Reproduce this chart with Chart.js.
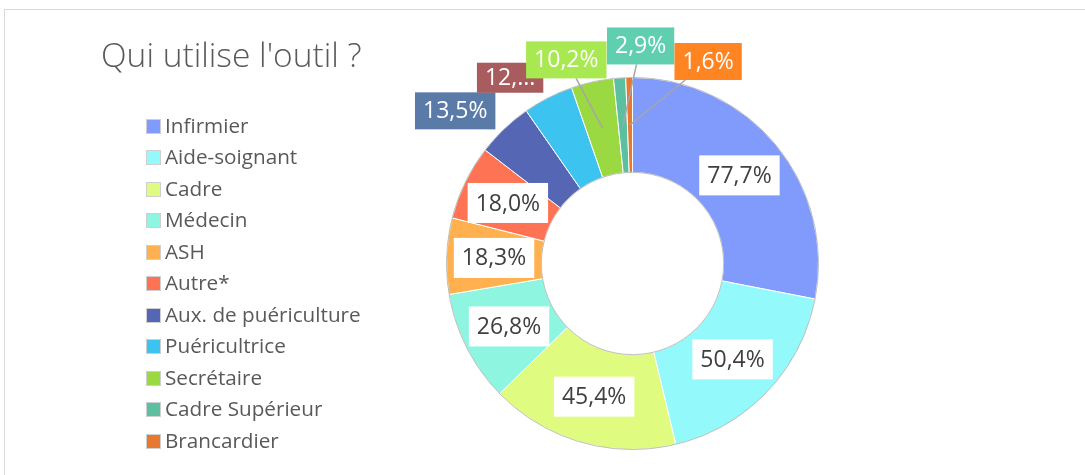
<!doctype html>
<html lang="fr">
<head>
  <meta charset="utf-8">
  <title>Qui utilise l'outil ?</title>
  <script src="https://cdn.jsdelivr.net/npm/chart.js@4.4.1/dist/chart.umd.min.js"></script>
  <style>
    body { margin: 0; background: #fff; }
  </style>
</head>
<body>
<canvas id="myChart" width="1085" height="475"></canvas>

<script>
var titre = "Qui utilise l'outil ?";
var metiers = ['Infirmier', 'Aide-soignant', 'Cadre', 'Médecin', 'ASH', 'Autre*',
  'Aux. de puériculture', 'Puéricultrice', 'Secrétaire', 'Cadre Supérieur', 'Brancardier'];
var valeurs = [77.7, 50.4, 45.4, 26.8, 18.3, 18.0, 13.5, 12.1, 10.2, 2.9, 1.6];
var couleurs = ['#809bfb', '#93f9fb', '#dffc80', '#8df5e0', '#ffb14f', '#fe7353',
  '#5566b5', '#3dc3ef', '#9ad942', '#5cbf9f', '#e7782f'];
// fonds des étiquettes placées hors du graphique
var fondsEtiquettes = ['#5a7ba8', '#a85c5e', '#a8e851', '#5fcfb0', '#ff8422'];
// étiquettes tronquées faute de place
var tronquees = [7];
</script>

<script>
const police = '"Open Sans", Lato, sans-serif';
// décalage des étiquettes extérieures depuis le bord de la part
const decalages = [[-49, -18], [-38, -20], [-26, -22], [21, -32], [79, -16]];

const texte = (v, i) => {
  let s = v.toFixed(1).replace('.', ',') + '%';
  if (tronquees.includes(i)) s = s.split(',')[0] + ',...';
  return s;
};

const decor = {
  id: 'decor',
  beforeDraw(chart) {
    const c = chart.ctx;
    c.save();
    c.fillStyle = '#fff';
    c.fillRect(0, 0, chart.width, chart.height);
    c.strokeStyle = '#d9d9d9';
    c.lineWidth = 1;
    c.strokeRect(4.5, 9.5, chart.width + 20, chart.height + 20);

    c.fillStyle = '#595959';
    c.font = '300 33.5px ' + police;
    c.textBaseline = 'alphabetic';
    c.fillText(titre, 101, 67);

    // légende
    c.font = '20.7px ' + police;
    c.textBaseline = 'middle';
    metiers.forEach((m, i) => {
      const y = Math.round(125.5 + i * 31.5);
      c.fillStyle = couleurs[i];
      c.fillRect(147, y - 6, 13, 13);
      c.strokeStyle = '#cfcfcf';
      c.strokeRect(146.5, y - 6.5, 14, 14);
      c.fillStyle = '#595959';
      c.fillText(m, 165, y + 1);
    });
    c.restore();
  },
  afterDatasetsDraw(chart) {
    const c = chart.ctx;
    const arcs = chart.getDatasetMeta(0).data;
    c.save();
    const a0 = arcs[0];
    c.strokeStyle = 'rgba(150,150,150,0.6)';
    c.lineWidth = 1;
    c.beginPath();
    c.arc(a0.x, a0.y, a0.outerRadius, 0, Math.PI * 2);
    c.stroke();
    c.beginPath();
    c.arc(a0.x, a0.y, a0.innerRadius, 0, Math.PI * 2);
    c.stroke();

    c.font = '23px ' + police;
    c.textAlign = 'center';
    c.textBaseline = 'middle';
    let k = 0;
    arcs.forEach((arc, i) => {
      const mid = (arc.startAngle + arc.endAngle) / 2;
      const ouverture = (arc.endAngle - arc.startAngle) * 180 / Math.PI;
      const t = texte(valeurs[i], i);
      const w = c.measureText(t).width + 16;
      if (ouverture > 20) {
        const r = (arc.innerRadius + arc.outerRadius) / 2;
        const bx = arc.x + Math.cos(mid) * r, by = arc.y + Math.sin(mid) * r;
        c.fillStyle = '#fff';
        c.fillRect(bx - w / 2, by - 20, w, 40);
        c.fillStyle = '#404040';
        c.fillText(t, bx, by + 1);
        return;
      }
      const d = decalages[k];
      const bx = arc.x + Math.cos(mid) * arc.outerRadius + d[0];
      const by = arc.y + Math.sin(mid) * arc.outerRadius + d[1];
      const h = tronquees.includes(i) ? 30 : 37;
      if (ouverture < 15) {
        // trait de rappel vers le milieu de la part
        const r = (arc.innerRadius + arc.outerRadius) / 2;
        const tx = arc.x + Math.cos(mid) * r, ty = arc.y + Math.sin(mid) * r;
        const dx = tx - bx, dy = ty - by;
        const s = Math.min(Math.abs((w / 2) / dx), Math.abs((h / 2) / dy));
        c.strokeStyle = '#a6a6a6';
        c.lineWidth = 1.5;
        c.beginPath();
        c.moveTo(bx + dx * s, by + dy * s);
        c.lineTo(tx, ty);
        c.stroke();
      }
      c.fillStyle = fondsEtiquettes[k];
      c.fillRect(bx - w / 2, by - h / 2, w, h);
      c.fillStyle = '#fff';
      c.fillText(t, bx, by + 1);
      k++;
    });
    c.restore();
  }
};

var ctx = document.getElementById('myChart').getContext('2d');
var myChart = new Chart(ctx, {
  type: 'doughnut',
  data: {
    labels: metiers,
    datasets: [{
      data: valeurs,
      backgroundColor: couleurs,
      borderColor: '#ffffff',
      borderWidth: 1
    }]
  },
  plugins: [decor],
  options: {
    responsive: false,
    animation: false,
    cutout: '49%',
    layout: { padding: { left: 446, right: 266, top: 77, bottom: 25 } },
    plugins: {
      legend: { display: false },
      tooltip: { enabled: false }
    }
  }
});
</script>
</body>
</html>
